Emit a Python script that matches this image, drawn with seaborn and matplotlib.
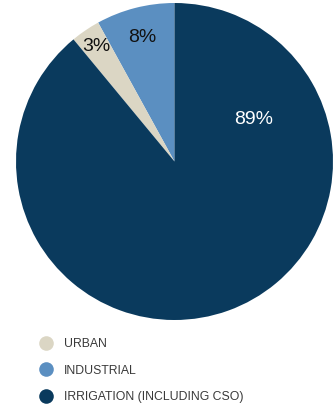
import numpy as np
import matplotlib
matplotlib.use("Agg")
import matplotlib.pyplot as plt
from matplotlib.lines import Line2D
import seaborn as sns

# Water use shares (percent)
categories = ["INDUSTRIAL", "URBAN", "IRRIGATION (INCLUDING CSO)"]
shares = [8, 3, 89]
pct_labels = ["8%", "3%", "89%"]
legend_order = ["URBAN", "INDUSTRIAL", "IRRIGATION (INCLUDING CSO)"]

colors = {
    "INDUSTRIAL": "#5b8fc1",
    "URBAN": "#dbd6c4",
    "IRRIGATION (INCLUDING CSO)": "#0a3a5d",
}
label_colors = ["#111111", "#111111", "#ffffff"]
# radial distance (fraction of radius) and angle override for each label
label_radius = [0.81, 0.88, 0.565]
label_angle = [None, None, 28.0]

sns.set_theme(style="white")
plt.rcParams["font.family"] = ["Liberation Sans", "DejaVu Sans"]

W, H = 334, 405
fig = plt.figure(figsize=(W / 100, H / 100), dpi=100)
cx, cy, r = 174.5, 161.5, 158.5
ax = fig.add_axes([(cx - r) / W, (H - cy - r) / H, 2 * r / W, 2 * r / H])

wedges, _ = ax.pie(
    shares,
    colors=[colors[c] for c in categories],
    startangle=90,
    counterclock=True,
    wedgeprops=dict(linewidth=0),
)
ax.set_xlim(-1, 1)
ax.set_ylim(-1, 1)
ax.set_aspect("equal")

for w, txt, rad, ang, col in zip(wedges, pct_labels, label_radius, label_angle, label_colors):
    a = ang if ang is not None else (w.theta1 + w.theta2) / 2
    x = rad * np.cos(np.deg2rad(a))
    y = rad * np.sin(np.deg2rad(a))
    ax.text(x, y, txt, ha="center", va="center", fontsize=14, color=col)

handles = [
    Line2D([], [], marker="o", linestyle="none", markersize=10.5,
           markerfacecolor=colors[c], markeredgewidth=0)
    for c in legend_order
]
fig.legend(
    handles, legend_order,
    loc="upper left",
    bbox_to_anchor=(40 / W, 1 - 338 / H),
    frameon=False,
    fontsize=8.8,
    labelcolor="#3a3a3a",
    handlelength=1.0,
    handletextpad=0.95,
    labelspacing=1.2,
    borderpad=0,
    borderaxespad=0,
)

fig.savefig("out.png", dpi=100)
